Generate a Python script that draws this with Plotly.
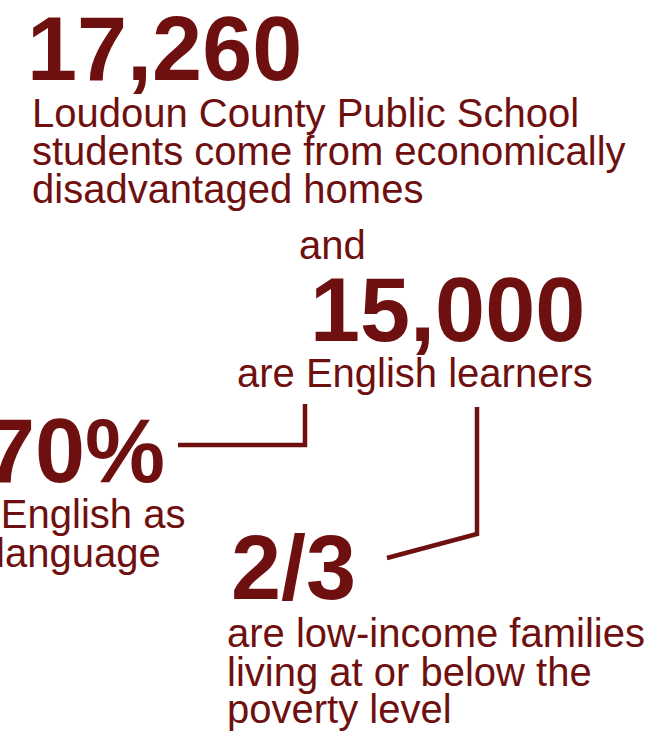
import plotly.graph_objects as go

# ---- content (data) ----
stat_values = ["17,260", "15,000", "70%", "2/3"]
joiner_text = ["and"]
caption_17260 = ["Loudoun County Public School",
                 "students come from economically",
                 "disadvantaged homes"]
caption_15000 = ["are English learners"]
caption_70 = ["speak English as", "second language"]
caption_23 = ["are low-income families",
              "living at or below the",
              "poverty level"]

# ---- layout / style ----
COLOR = "#6f1010"
FONT = "Liberation Sans, Arial, Helvetica, sans-serif"
W, H = 667, 733
BIG, SMALL = 90, 40

fig = go.Figure()
fig.add_trace(go.Scatter(x=[0, W], y=[0, H], mode="markers",
                         marker=dict(opacity=0), hoverinfo="skip",
                         showlegend=False))


def add_text(text, x, baseline, size, bold=False, anchor="left"):
    # centre of Liberation Sans text box relative to baseline
    yc = baseline - 0.3465 * size
    fig.add_annotation(x=x, y=yc, xref="x", yref="y", text=text,
                       showarrow=False, xanchor=anchor, yanchor="middle",
                       align=anchor,
                       font=dict(family=FONT, size=size, color=COLOR,
                                 weight="bold" if bold else "normal"))


# 17,260 block
add_text(stat_values[0], 25, 80, BIG, bold=True)
for line, base in zip(caption_17260, [127, 165, 203]):
    add_text(line, 30, base, SMALL)

# and 15,000 block
add_text(joiner_text[0], 297, 259, SMALL)
add_text(stat_values[1], 308, 341, BIG, bold=True)
add_text(caption_15000[0], 235, 387, SMALL)

# 70% block (partly off the left edge)
add_text(stat_values[2], 167, 482, BIG, bold=True, anchor="right")
add_text(caption_70[0], 187, 528, SMALL, anchor="right")
add_text(caption_70[1], 163, 567, SMALL, anchor="right")

# 2/3 block
add_text(stat_values[3], 229, 599, BIG, bold=True)
for line, base in zip(caption_23, [647, 686, 723]):
    add_text(line, 225, base, SMALL)

# connector lines
connectors = [
    "M 178 445 L 305 445 L 305 404",
    "M 477 407 L 477 534 L 387 558",
]
for p in connectors:
    fig.add_shape(type="path", path=p, xref="x", yref="y",
                  line=dict(color=COLOR, width=4.5))

fig.update_layout(
    width=W, height=H,
    margin=dict(l=0, r=0, t=0, b=0),
    paper_bgcolor="white", plot_bgcolor="white",
    xaxis=dict(range=[0, W], visible=False, fixedrange=True),
    yaxis=dict(range=[H, 0], visible=False, fixedrange=True),
    showlegend=False,
)

fig.write_html("out.html", config={"displayModeBar": False},
               post_script="document.body.style.margin='0';"
                           "document.body.style.overflow='hidden';")
